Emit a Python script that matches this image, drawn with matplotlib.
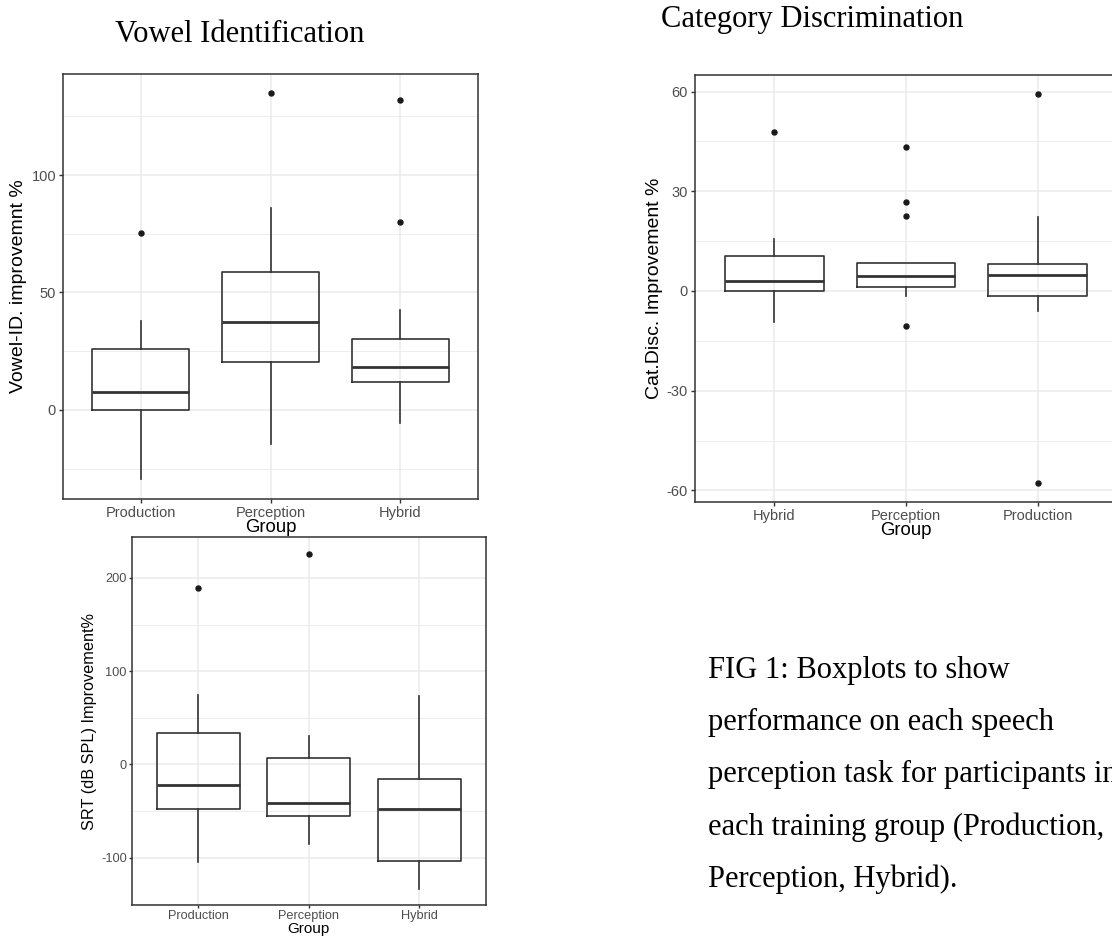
import matplotlib.pyplot as plt

# Vowel identification (top left)
vowel_groups = ["Production", "Perception", "Hybrid"]
vowel_q1 = [0.0, 20.3, 11.9]
vowel_med = [7.5, 37.4, 18.3]
vowel_q3 = [25.8, 58.7, 30.1]
vowel_lo = [-29.4, -14.6, -5.4]
vowel_hi = [38.0, 86.0, 42.6]
vowel_out = [[75.2], [134.7], [132.0, 80.0]]

# Category discrimination (top right)
cat_groups = ["Hybrid", "Perception", "Production"]
cat_q1 = [0.0, 1.1, -1.6]
cat_med = [2.9, 4.4, 4.7]
cat_q3 = [10.6, 8.4, 8.2]
cat_lo = [-9.2, -1.4, -6.0]
cat_hi = [15.5, 8.4, 22.3]
cat_out = [[47.8], [43.2, 26.9, 22.7, -10.4], [59.4, -57.9]]

# SRT (bottom left)
srt_groups = ["Production", "Perception", "Hybrid"]
srt_q1 = [-48.3, -55.5, -103.8]
srt_med = [-22.5, -41.5, -47.6]
srt_q3 = [33.6, 6.8, -15.4]
srt_lo = [-104.5, -85.8, -133.5]
srt_hi = [74.7, 30.4, 73.6]
srt_out = [[189.2], [225.6], []]

caption_lines = [
    "FIG 1: Boxplots to show",
    "performance on each speech",
    "perception task for participants in",
    "each training group (Production,",
    "Perception, Hybrid).",
]

W, H = 1112, 936
DARK = "#333333"
GRID = "#EBEBEB"
TICK = "#4D4D4D"

plt.rcParams["font.family"] = ["Liberation Sans", "DejaVu Sans"]
plt.rcParams["axes.unicode_minus"] = False

fig = plt.figure(figsize=(W / 100, H / 100), dpi=100)


def px_axes(left, top, right, bottom):
    return fig.add_axes([left / W, 1 - bottom / H, (right - left) / W, (bottom - top) / H])


def gg_box(ax, groups, q1, med, q3, lo, hi, out, ylim, major, minor,
           ylabel, tick_fs, label_fs, group_fs, xlabelpad, tick_len=3, tick_pad=2):
    stats = []
    for i in range(len(groups)):
        stats.append({"med": med[i], "q1": q1[i], "q3": q3[i],
                      "whislo": lo[i], "whishi": hi[i], "fliers": out[i]})
    pos = list(range(1, len(groups) + 1))

    for y in major:
        ax.axhline(y, color=GRID, lw=1.1, zorder=0)
    for y in minor:
        ax.axhline(y, color=GRID, lw=0.6, zorder=0)
    for x in pos:
        ax.axvline(x, color=GRID, lw=1.1, zorder=0)

    ax.bxp(stats, positions=pos, widths=0.75, showcaps=False,
           boxprops=dict(color=DARK, lw=1.2),
           whiskerprops=dict(color=DARK, lw=1.2),
           medianprops=dict(color=DARK, lw=2.0),
           flierprops=dict(marker="o", markersize=3.6, markerfacecolor="#1a1a1a",
                           markeredgecolor="#1a1a1a"),
           zorder=3)

    ax.set_xlim(0.4, len(groups) + 0.6)
    ax.set_ylim(*ylim)
    ax.set_xticks(pos)
    ax.set_xticklabels(groups)
    ax.set_yticks(major)
    ax.tick_params(colors=DARK, labelcolor=TICK, labelsize=tick_fs,
                   length=tick_len, width=1, pad=tick_pad)
    for s in ax.spines.values():
        s.set_color(DARK)
        s.set_linewidth(1.1)
    ax.set_ylabel(ylabel, fontsize=label_fs, labelpad=3)
    ax.set_xlabel("Group", fontsize=group_fs, labelpad=xlabelpad)


ax1 = px_axes(63, 74, 478, 499)
gg_box(ax1, vowel_groups, vowel_q1, vowel_med, vowel_q3, vowel_lo, vowel_hi, vowel_out,
       (-37.9, 143), [0, 50, 100], [-25, 25, 75, 125],
       "Vowel-ID. improvemnt %", 10.5, 14, 13.4, -1)

ax2 = px_axes(695, 74.7, 1117, 502.3)
gg_box(ax2, cat_groups, cat_q1, cat_med, cat_q3, cat_lo, cat_hi, cat_out,
       (-63.6, 65.1), [-60, -30, 0, 30, 60], [-45, -15, 15, 45],
       "Cat.Disc. Improvement %", 10.5, 14, 13.4, -1)

ax3 = px_axes(131.7, 537.3, 485.7, 904.7)
gg_box(ax3, srt_groups, srt_q1, srt_med, srt_q3, srt_lo, srt_hi, srt_out,
       (-150.6, 243.6), [-100, 0, 100, 200], [-150, -50, 50, 150],
       "SRT (dB SPL) Improvement%", 9.2, 11.7, 11.0, 0, tick_len=2.5, tick_pad=1)

serif = ["Liberation Serif", "DejaVu Serif"]
fig.text(240 / W, 1 - 41.7 / H, "Vowel Identification", family=serif,
         fontsize=22, ha="center", va="baseline")
fig.text(812 / W, 1 - 26.7 / H, "Category Discrimination", family=serif,
         fontsize=22, ha="center", va="baseline")

for i, line in enumerate(caption_lines):
    fig.text(708 / W, 1 - (677.7 + 52.3 * i) / H, line, family=serif,
             fontsize=22, ha="left", va="baseline")

fig.savefig("out.png", dpi=100)
